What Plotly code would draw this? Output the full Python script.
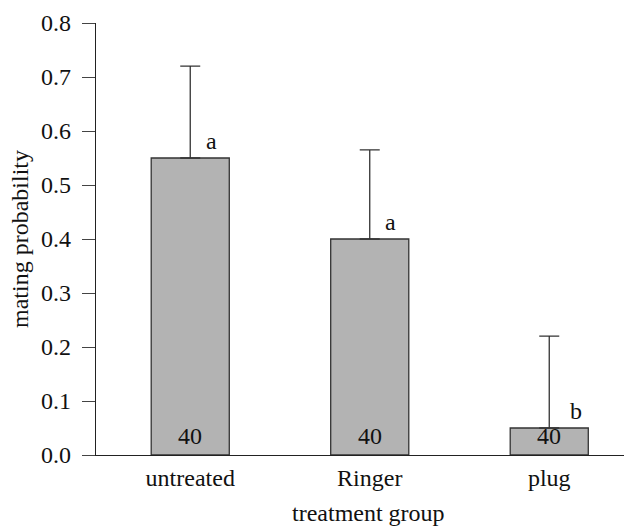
import plotly.graph_objects as go

categories = ["untreated", "Ringer", "plug"]
probability = [0.55, 0.40, 0.05]
error_upper = [0.17, 0.165, 0.17]
sample_sizes = ["40", "40", "40"]
group_letters = ["a", "a", "b"]
y_ticks = [0.0, 0.1, 0.2, 0.3, 0.4, 0.5, 0.6, 0.7, 0.8]
group_boundaries = [0.5, 1.5]

# styling / placement (pixels)
letter_xshift = [21, 21, 27]
FONT = "Liberation Serif, Times New Roman, serif"
FS = 24
X_RANGE = [-0.525, 2.461]
PLOT_W, PLOT_H = 536, 432

fig = go.Figure()
fig.add_trace(go.Bar(
    x=categories,
    y=probability,
    width=0.435,
    marker=dict(color="#b3b3b3", line=dict(color="#333333", width=1.3)),
    error_y=dict(type="data", symmetric=False, array=error_upper,
                 arrayminus=[0] * len(categories),
                 color="#333333", thickness=1.3, width=10),
    hoverinfo="skip",
))

for c, v, n, L, dx in zip(categories, probability, sample_sizes, group_letters, letter_xshift):
    fig.add_annotation(x=c, y=0, text=n, showarrow=False, yanchor="bottom",
                       yshift=4, font=dict(family=FONT, size=FS, color="#111"))
    fig.add_annotation(x=c, y=v, text=L, showarrow=False, yanchor="bottom",
                       xanchor="center", xshift=dx, yshift=2,
                       font=dict(family=FONT, size=FS, color="#111"))

# axis titles
fig.add_annotation(xref="paper", yref="paper", x=-76 / PLOT_W, y=0.5,
                   text="mating probability", textangle=-90, showarrow=False,
                   xanchor="center", yanchor="middle",
                   font=dict(family=FONT, size=FS, color="#111"))
fig.add_annotation(xref="paper", yref="paper", x=(368 - 96) / PLOT_W, y=-58 / PLOT_H,
                   text="treatment group", showarrow=False,
                   xanchor="center", yanchor="middle",
                   font=dict(family=FONT, size=FS, color="#111"))

fig.update_layout(
    width=624, height=518,
    margin=dict(l=88, r=0, t=15, b=71),
    plot_bgcolor="white", paper_bgcolor="white",
    showlegend=False,
    font=dict(family=FONT, size=FS, color="#111"),
    xaxis=dict(
        type="category", range=X_RANGE, automargin=False,
        ticks="", showline=True, linecolor="#222", linewidth=1.2,
        showgrid=False, zeroline=False, ticklabelstandoff=1,
        tickfont=dict(family=FONT, size=FS, color="#111"),
    ),
    xaxis2=dict(
        overlaying="x", anchor="y", side="bottom", range=X_RANGE,
        tickvals=group_boundaries, ticktext=["", ""],
        ticks="outside", ticklen=12, tickcolor="#333", tickwidth=1.2,
        showline=False, showgrid=False, zeroline=False, automargin=False,
        showticklabels=False,
    ),
    yaxis=dict(
        range=[0, 0.8], tickvals=y_ticks, automargin=False,
        ticktext=[f"{t:.1f}" for t in y_ticks],
        ticks="outside", ticklen=13, tickcolor="#444", tickwidth=1.2,
        showline=True, linecolor="#222", linewidth=1.2,
        showgrid=False, zeroline=False, ticklabelstandoff=6,
        tickfont=dict(family=FONT, size=FS, color="#111"),
    ),
)

fig.write_html("out.html")
